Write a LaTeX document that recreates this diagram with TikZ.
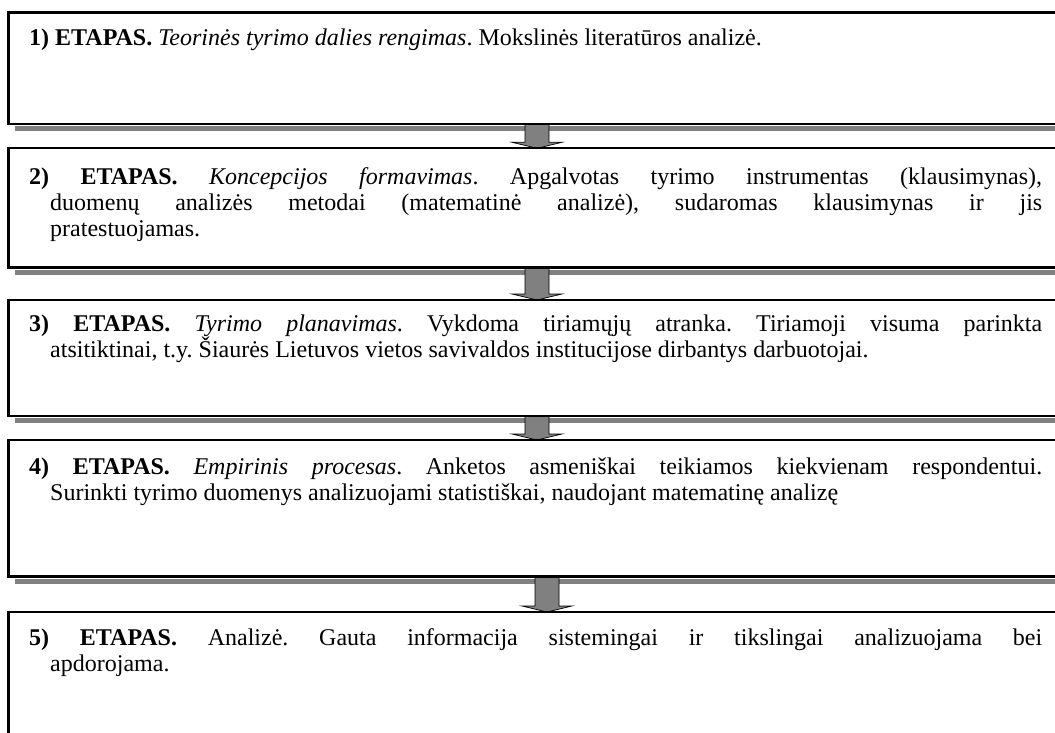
\documentclass[tikz,border=0pt]{standalone}
\usepackage{fontspec}
\setmainfont{Liberation Serif}
\usetikzlibrary{calc}
\frenchspacing

\definecolor{shadowgray}{RGB}{128,128,128}

% block arrow pointing down from the first coordinate to the second
\newcommand\stagearrow[2]{%
  \draw[blockarrow] let \p1=(#1), \p2=(#2) in
    (\x1-12pt,\y1) -- (\x1+12pt,\y1) -- (\x1+12pt,\y2+6pt) -- (\x1+25pt,\y2+6pt)
    -- (\x1,\y2) -- (\x1-25pt,\y2+6pt) -- (\x1-12pt,\y2+6pt) -- cycle;}

\begin{document}
\begin{tikzpicture}[x=1pt,y=-1pt,
  stagebox/.style={anchor=north west, inner sep=0pt, minimum width=1080pt},
  boxshadow/.style={fill=shadowgray},
  boxline/.style={draw=black, line width=2.2pt},
  blockarrow/.style={fill=shadowgray, draw=black, line width=0.7pt, line join=miter},
  textline/.style={anchor=base west, inner sep=0pt,
    font=\fontsize{24}{26}\selectfont}]

\useasboundingbox (0,0) rectangle (1055,733);
\clip (0,0) rectangle (1055,733);

% stage boxes (placed first so that shadows and arrows can refer to them)
\path (8.5,12.5)  node[stagebox, minimum height=111pt]   (s1) {};
\path (8.5,148.3) node[stagebox, minimum height=118.7pt] (s2) {};
\path (8.5,300)   node[stagebox, minimum height=115.5pt] (s3) {};
\path (8.5,440)   node[stagebox, minimum height=136pt]   (s4) {};
\path (8.5,612)   node[stagebox, minimum height=160pt]   (s5) {};

% shadows under the boxes
\foreach \b in {s1,s2,s3,s4}
  \fill[boxshadow] ($(\b.south west)+(6,2.2)$) rectangle ($(\b.south east)+(6,7.5)$);

% arrow columns
\coordinate (colA) at (537,0);
\coordinate (colB) at (547,0);

\stagearrow{colA |- s1.south}{colA |- s2.north}
\stagearrow{colA |- s2.south}{colA |- s3.north}
\stagearrow{colA |- s3.south}{colA |- s4.north}
\stagearrow{colB |- s4.south}{colB |- s5.north}

% box outlines
\foreach \b in {s1,s2,s3,s4,s5}
  \draw[boxline] (\b.south west) rectangle (\b.north east);

% stage texts
\node[textline] (t1a) at (29,46)
  {\textbf{1) ETAPAS.} \textit{Teorinės tyrimo dalies rengimas}. Mokslinės literatūros analizė.};

\node[textline] (t2a) at (29,184)
  {\makebox[1013pt][s]{\textbf{2)} \textbf{ETAPAS.} \textit{Koncepcijos} \textit{formavimas}. Apgalvotas tyrimo instrumentas (klausimynas),}};
\node[textline] (t2b) at (50,210)
  {\makebox[992pt][s]{duomenų analizės metodai (matematinė analizė), sudaromas klausimynas ir jis}};
\node[textline] (t2c) at (50,236) {pratestuojamas.};

\node[textline] (t3a) at (29,331)
  {\makebox[1013pt][s]{\textbf{3)} \textbf{ETAPAS.} \textit{Tyrimo} \textit{planavimas}. Vykdoma tiriamųjų atranka. Tiriamoji visuma parinkta}};
\node[textline] (t3b) at (50,357)
  {atsitiktinai, t.y. Šiaurės Lietuvos vietos savivaldos institucijose dirbantys darbuotojai.};

\node[textline] (t4a) at (29,474)
  {\makebox[1013pt][s]{\textbf{4)} \textbf{ETAPAS.} \textit{Empirinis} \textit{procesas}. Anketos asmeniškai teikiamos kiekvienam respondentui.}};
\node[textline] (t4b) at (50,500)
  {Surinkti tyrimo duomenys analizuojami statistiškai, naudojant matematinę analizę};

\node[textline] (t5a) at (29,645)
  {\makebox[1013pt][s]{\textbf{5)} \textbf{ETAPAS.} Analizė. Gauta informacija sistemingai ir tikslingai analizuojama bei}};
\node[textline] (t5b) at (50,671) {apdorojama.};

\end{tikzpicture}
\end{document}
